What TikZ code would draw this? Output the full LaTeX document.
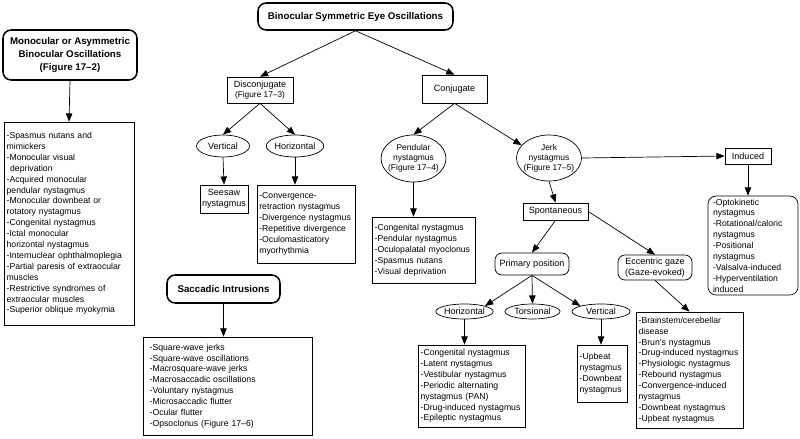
\documentclass[tikz,border=0pt]{standalone}
\usepackage{fontspec}
\setmainfont{Liberation Sans}
\usetikzlibrary{shapes.geometric, arrows.meta}

\begin{document}
\begin{tikzpicture} [x = 0.03cm, y = -0.03cm,
  lbl/.style = {font = \fontsize{7.7}{9}\selectfont},
  small/.style = {font = \fontsize{7.2}{8.6}\selectfont},
  lst/.style = {draw, line width = 0.6pt, font = \fontsize{7.4}{9.3}\selectfont, align = left, inner xsep = 0.08cm, inner ysep = 1pt},
  sq/.style = {draw, line width = 0.6pt, inner sep = 1pt, align = center},
  roundbox/.style = {draw, line width = 0.6pt, rounded corners = 6pt, inner sep = 1pt, align = center},
  oval/.style = {draw, ellipse, line width = 0.6pt, inner sep = 0pt, align = center},
  head/.style = {draw, rounded corners = 7pt, line width = 1.3pt, font = \bfseries\fontsize{8.3}{11}\selectfont, align = center},
  arr/.style = {-{Triangle[length = 7pt, width = 5.5pt]}, line width = 0.6pt}]
\useasboundingbox (0, 0) rectangle (800, 438);

\node[head, minimum width = 5.85cm, minimum height = 0.81cm] (binoc) at (355.5, 16.5){Binocular Symmetric Eye Oscillations};
\node[head, minimum width = 4.02cm, minimum height = 1.5cm] (mono) at (70, 55){Monocular or Asymmetric\\Binocular Oscillations\\(Figure 17–2)};
\node[lst, text width = 3.74cm, minimum height = 6.09cm] (monolist) at (69, 223.5){-Spasmus nutans and\\mimickers\\-Monocular visual\\\hspace*{3pt}deprivation\\-Acquired monocular\\pendular nystagmus\\-Monocular downbeat or\\rotatory nystagmus\\-Congenital nystagmus\\-Ictal monocular\\horizontal nystagmus\\-Internuclear ophthalmoplegia\\-Partial paresis of extraocular\\muscles\\-Restrictive syndromes of\\extraocular muscles\\-Superior oblique myokymia};

\node[sq, lbl, minimum width = 1.98cm, minimum height = 0.78cm] (disconj) at (260, 90){Disconjugate\\{\fontsize{7.1}{8}\selectfont(Figure 17–3)}};
\node[sq, lbl, minimum width = 1.95cm, minimum height = 0.84cm] (conj) at (454.5, 89){Conjugate};

\node[oval, lbl, minimum width = 1.59cm, minimum height = 0.66cm] (dvert) at (223, 146){Vertical};
\node[oval, lbl, minimum width = 1.62cm, minimum height = 0.66cm] (dhoriz) at (295, 146){Horizontal};
\node[sq, lbl, minimum width = 1.44cm, minimum height = 0.84cm] (seesaw) at (224, 199){Seesaw\\nystagmus};
\node[lst, inner xsep = 0.07cm, text width = 2.8cm, minimum height = 2.34cm] (dhorizlist) at (306, 224){-Convergence-\\retraction nystagmus\\-Divergence nystagmus\\-Repetitive divergence\\-Oculomasticatory\\myorhythmia};

\node[head, minimum width = 3.39cm, minimum height = 0.84cm] (sacc) at (223.5, 289){Saccadic Intrusions};
\node[lst, inner xsep = 0.2cm, text width = 4.67cm, minimum height = 2.94cm] (sacclist) at (227.5, 386){-Square-wave jerks\\-Square-wave oscillations\\-Macrosquare-wave jerks\\-Macrosaccadic oscillations\\-Voluntary nystagmus\\-Microsaccadic flutter\\-Ocular flutter\\-Opsoclonus (Figure 17–6)};

\node[oval, small, inner xsep = -2pt, minimum width = 1.89cm, minimum height = 1.41cm] (pend) at (413.5, 158.5){Pendular\\nystagmus\\(Figure 17–4)};
\node[oval, small, inner xsep = -2pt, minimum width = 1.86cm, minimum height = 1.38cm] (jerk) at (549, 158){Jerk\\nystagmus\\(Figure 17–5)};
\node[lst, text width = 2.93cm, minimum height = 1.98cm] (pendlist) at (423.5, 250){-Congenital nystagmus\\-Pendular nystagmus\\-Oculopalatal myoclonus\\-Spasmus nutans\\-Visual deprivation};

\node[sq, lbl, minimum width = 1.95cm, minimum height = 0.51cm] (spont) at (555.5, 211.5){Spontaneous};
\node[sq, lbl, minimum width = 1.38cm, minimum height = 0.48cm] (induced) at (748, 156){Induced};
\node[lst, rounded corners = 7pt, inner xsep = 0.15cm, text width = 2.4cm, minimum height = 2.97cm] (inducedlist) at (753, 245.5){-Optokinetic\\nystagmus\\-Rotational/caloric\\nystagmus\\-Positional\\nystagmus\\-Valsalva-induced\\-Hyperventilation\\induced};

\node[roundbox, lbl, minimum width = 2.22cm, minimum height = 0.66cm] (primary) at (532, 264){Primary position};
\node[roundbox, lbl, minimum width = 2.22cm, minimum height = 0.75cm] (eccentric) at (655, 267.5){Eccentric gaze\\(Gaze-evoked)};

\node[oval, lbl, minimum width = 1.65cm, minimum height = 0.45cm] (phoriz) at (464.5, 311.5){Horizontal};
\node[oval, lbl, minimum width = 1.65cm, minimum height = 0.45cm] (ptors) at (532.5, 311.5){Torsional};
\node[oval, lbl, minimum width = 1.74cm, minimum height = 0.45cm] (pvert) at (601, 311.5){Vertical};

\node[lst, text width = 3.05cm, minimum height = 2.46cm] (phorizlist) at (471.5, 386){-Congenital nystagmus\\-Latent nystagmus\\-Vestibular nystagmus\\-Periodic alternating\\nystagmus (PAN)\\-Drug-induced nystagmus\\-Epileptic nystagmus};
\node[lst, text width = 1.34cm, minimum height = 1.71cm] (pvertlist) at (602, 373.5){-Upbeat\\nystagmus\\-Downbeat\\nystagmus};
\node[lst, text width = 3.05cm, minimum height = 3.48cm] (ecclist) at (689.5, 370){-Brainstem/cerebellar\\disease\\-Brun's nystagmus\\-Drug-induced nystagmus\\-Physiologic nystagmus\\-Rebound nystagmus\\-Convergence-induced\\nystagmus\\-Downbeat nystagmus\\-Upbeat nystagmus};

\draw[arr] (mono.south) -- (monolist.north);
\draw[arr] (binoc.south) -- (disconj.north);
\draw[arr] (binoc.south) -- (conj.north);
\draw[arr] (disconj.south) -- (dvert.north);
\draw[arr] (disconj.south) -- (dhoriz.north);
\draw[arr] (dvert.south) -- (seesaw.north);
\draw[arr] (dhoriz.south) -- (dhoriz.south |- dhorizlist.north);
\draw[arr] (sacc.south) -- (sacc.south |- sacclist.north);
\draw[arr] (conj.south) -- (pend.north);
\draw[arr] (conj.south) -- (jerk.155);
\draw[arr] (pend.south) -- (pend.south |- pendlist.north);
\draw[arr] (jerk.south) -- (spont.north);
\draw[arr] (jerk.east) -- (induced.west);
\draw[arr] (induced.south) -- (induced.south |- inducedlist.north);
\draw[arr] (spont.south) -- (primary.north);
\draw[arr] (spont.east) -- (eccentric.north);
\draw[arr] (primary.south) -- (phoriz.north east);
\draw[arr] (primary.south) -- (ptors.north);
\draw[arr] (primary.south) -- (pvert.north west);
\draw[arr] (phoriz.south) -- (phoriz.south |- phorizlist.north);
\draw[arr] (pvert.south) -- (pvert.south |- pvertlist.north);
\draw[arr] (eccentric.south) -- (ecclist.north);
\end{tikzpicture}
\end{document}
